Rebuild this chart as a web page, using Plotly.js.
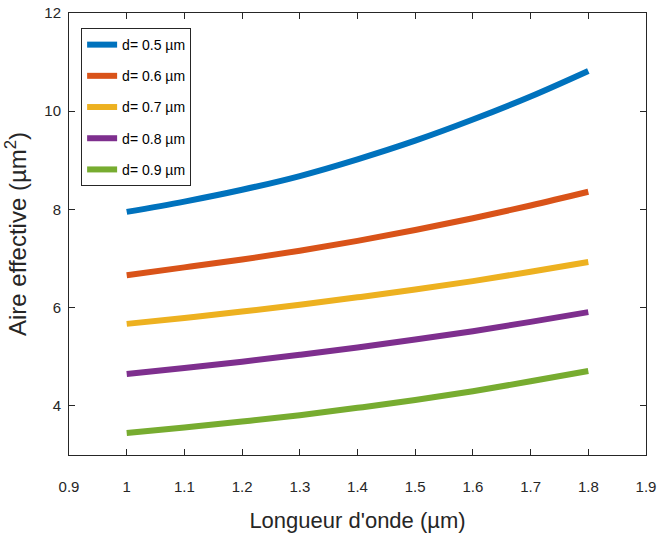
<!DOCTYPE html>
<html>
<head>
<meta charset="utf-8">
<script src="https://cdn.plot.ly/plotly-3.0.1.min.js"></script>
<style>html,body{margin:0;padding:0;background:#fff;}#chart{width:658px;height:549px;}</style>
</head>
<body>
<div id="chart"></div>
<script>
const wavelength = [1.0, 1.1, 1.2, 1.3, 1.4, 1.5, 1.6, 1.7, 1.8];
const seriesNames = ["d= 0.5 µm", "d= 0.6 µm", "d= 0.7 µm", "d= 0.8 µm", "d= 0.9 µm"];
const d05 = [7.95, 8.16, 8.40, 8.68, 9.02, 9.40, 9.83, 10.30, 10.82];
const d06 = [6.66, 6.82, 6.98, 7.16, 7.36, 7.58, 7.82, 8.08, 8.36];
const d07 = [5.67, 5.79, 5.92, 6.06, 6.21, 6.37, 6.54, 6.73, 6.93];
const d08 = [4.65, 4.77, 4.90, 5.04, 5.19, 5.35, 5.52, 5.71, 5.91];
const d09 = [3.45, 3.56, 3.68, 3.81, 3.96, 4.12, 4.30, 4.50, 4.71];
const xTicks = [0.9, 1, 1.1, 1.2, 1.3, 1.4, 1.5, 1.6, 1.7, 1.8, 1.9];
const yTicks = [4, 6, 8, 10, 12];

const colors = ["#0072BD", "#D95319", "#EDB120", "#7E2F8E", "#77AC30"];
const allY = [d05, d06, d07, d08, d09];
const fontFam = "'Liberation Sans Narrow', 'Arial Narrow', 'Liberation Sans', Arial, sans-serif";

const traces = allY.map((ys, i) => ({
  x: wavelength, y: ys, name: seriesNames[i], type: 'scatter', mode: 'lines',
  legendgroup: 'g' + i,
  line: {color: colors[i], width: 6, shape: 'spline'}
}));

const axisCommon = {
  showline: true, linecolor: '#262626', linewidth: 1, mirror: 'ticks',
  ticks: 'inside', ticklen: 6, tickcolor: '#262626', showgrid: false, zeroline: false,
  tickfont: {family: fontFam, size: 15, color: '#262626'}
};

const layout = {
  width: 658, height: 549,
  margin: {l: 69, r: 12, t: 13, b: 94},
  paper_bgcolor: '#fff', plot_bgcolor: '#fff',
  showlegend: true,
  legend: {
    x: 0.021, y: 0.966, xanchor: 'left', yanchor: 'top',
    bordercolor: '#262626', borderwidth: 1, bgcolor: '#fff',
    font: {family: fontFam, size: 14, color: '#000'},
    traceorder: 'grouped', tracegroupgap: 10, itemwidth: 30
  },
  xaxis: Object.assign({}, axisCommon, {
    range: [0.9, 1.9], tickvals: xTicks, ticktext: xTicks.map(String),
    ticklabelstandoff: 18,
    title: {text: "Longueur d'onde (µm)", font: {family: fontFam, size: 22, color: '#262626'}, standoff: 18}
  }),
  yaxis: Object.assign({}, axisCommon, {
    range: [3, 12], tickvals: yTicks, ticktext: yTicks.map(String),
    ticklabelstandoff: 4,
    title: {text: "Aire effective (µm<sup>2</sup>)", font: {family: "'Liberation Sans', Arial, sans-serif", size: 24, color: '#262626'}, standoff: 10}
  })
};

Plotly.newPlot('chart', traces, layout, {displayModeBar: false, staticPlot: true});
</script>
</body>
</html>
